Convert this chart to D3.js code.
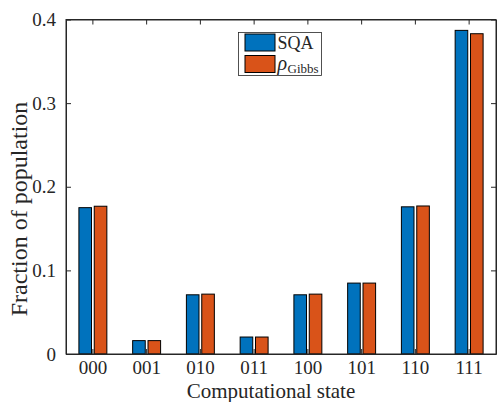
<!DOCTYPE html>
<html>
<head>
<meta charset="utf-8">
<script src="https://cdn.jsdelivr.net/npm/d3@7"></script>
<style>
  html, body { margin: 0; padding: 0; background: #fff; }
  svg { display: block; }
</style>
</head>
<body>
<svg id="chart" width="497" height="402"></svg>
<script>
const categories = ["000", "001", "010", "011", "100", "101", "110", "111"];
const seriesNames = ["SQA", "Gibbs"];
const sqaValues   = [0.175, 0.016, 0.0708, 0.0203, 0.0708, 0.0848, 0.176, 0.387];
const gibbsValues = [0.1767, 0.016, 0.0716, 0.0203, 0.0716, 0.0848, 0.177, 0.383];
const yTicks = [0, 0.1, 0.2, 0.3, 0.4];
const yTickLabels = ["0", "0.1", "0.2", "0.3", "0.4"];
const colors = ["#0072BD", "#D95319"];

(function () {
const svg = d3.select("#chart");
const mLeft = 66, mRight = 496, mTop = 19.5, mBottom = 354;
const axisColor = "#262626";
const serif = "'Liberation Serif'";

const x = d3.scaleBand().domain(categories).range([mLeft, mRight]).paddingInner(0).paddingOuter(0);
const bw = x.bandwidth();
const xSub = d3.scaleBand().domain(seriesNames).range([bw * 0.24, bw * 0.76]).paddingInner(0.18);
const y = d3.scaleLinear().domain([0, 0.4]).range([mBottom, mTop]);

const rows = categories.map((c, i) => ({ cat: c, vals: [sqaValues[i], gibbsValues[i]] }));

const g = svg.append("g");
rows.forEach(r => {
  r.vals.forEach((v, j) => {
    g.append("rect")
      .attr("x", x(r.cat) + xSub(seriesNames[j]))
      .attr("y", y(v))
      .attr("width", xSub.bandwidth())
      .attr("height", y(0) - y(v))
      .attr("fill", colors[j])
      .attr("stroke", "#000")
      .attr("stroke-width", 1);
  });
});

const tickLen = 5;
const xAxisB = d3.axisBottom(x).tickSize(-tickLen).tickPadding(10).tickSizeOuter(0);
const gxb = svg.append("g").attr("transform", `translate(0,${mBottom})`).call(xAxisB);
gxb.selectAll("text").attr("y", 7);
const xAxisT = d3.axisTop(x).tickSize(-tickLen).tickFormat("").tickSizeOuter(0);
svg.append("g").attr("transform", `translate(0,${mTop})`).call(xAxisT);

const yAxisL = d3.axisLeft(y).tickValues(yTicks).tickFormat((d, i) => yTickLabels[i]).tickSize(-tickLen).tickPadding(10).tickSizeOuter(0);
const gyl = svg.append("g").attr("transform", `translate(${mLeft},0)`).call(yAxisL);
gyl.selectAll("text").attr("x", -10);
const yAxisR = d3.axisRight(y).tickValues(yTicks).tickFormat("").tickSize(-tickLen).tickSizeOuter(0);
svg.append("g").attr("transform", `translate(${mRight},0)`).call(yAxisR);

svg.selectAll(".domain").attr("stroke", axisColor).attr("stroke-width", 1);
svg.selectAll(".tick line").attr("stroke", axisColor).attr("stroke-width", 1);
svg.selectAll(".tick text").attr("fill", axisColor)
  .style("font-family", serif).style("font-size", "19px");
svg.append("rect").attr("x", mLeft).attr("y", mTop).attr("width", mRight - mLeft).attr("height", mBottom - mTop)
  .attr("fill", "none").attr("stroke", axisColor).attr("stroke-width", 1);

svg.append("text").attr("x", 271).attr("y", 397.5).attr("text-anchor", "middle").attr("fill", axisColor)
  .style("font-family", serif).style("font-size", "21px").text("Computational state");
svg.append("text").attr("transform", "translate(27,209) rotate(-90)").attr("text-anchor", "middle").attr("fill", axisColor)
  .style("font-family", serif).style("font-size", "24px").text("Fraction of population");

const lg = svg.append("g");
lg.append("rect").attr("x", 238.5).attr("y", 32.5).attr("width", 83).attr("height", 43)
  .attr("fill", "#fff").attr("stroke", axisColor).attr("stroke-width", 0.8);
const legendLabels = [{ main: "SQA" }, { main: "ρ", sub: "Gibbs" }];
legendLabels.forEach((l, j) => {
  const yy = 34 + j * 21.5;
  lg.append("rect").attr("x", 245).attr("y", yy).attr("width", 30).attr("height", 17)
    .attr("fill", colors[j]).attr("stroke", "#000").attr("stroke-width", 1);
  const t = lg.append("text").attr("x", 277.5).attr("y", yy + 14.5).attr("fill", axisColor)
    .style("font-family", serif).style("font-size", "18px");
  if (l.sub) {
    t.append("tspan").style("font-style", "italic").style("font-size", "20px").text(l.main);
    t.append("tspan").style("font-size", "13px").attr("dy", 3).attr("dx", 0.5).text(l.sub);
  } else {
    t.text(l.main);
  }
});
})();
</script>
</body>
</html>
